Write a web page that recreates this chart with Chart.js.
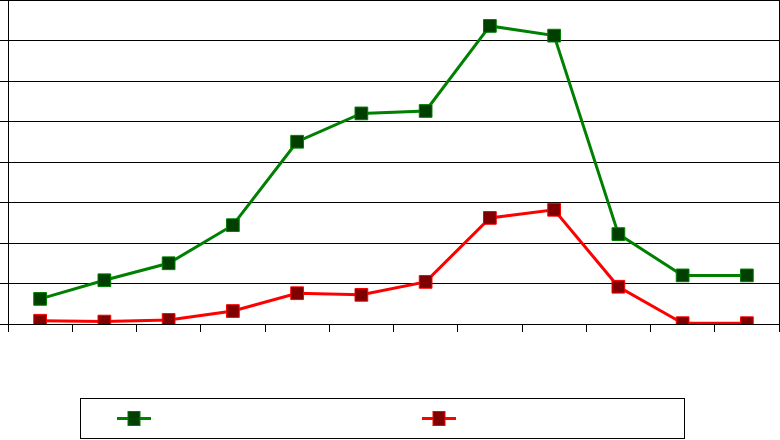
<!DOCTYPE html>
<html>
<head>
<meta charset="utf-8">
<script src="https://cdn.jsdelivr.net/npm/chart.js@4/dist/chart.umd.min.js"></script>
<style>
  html, body { margin:0; padding:0; background:#fff; }
  #wrap { width:780px; height:440px; position:relative; }
</style>
</head>
<body>
<div id="wrap"><canvas id="chart"></canvas></div>
<script>
// ----- data -----
const categories = ['1','2','3','4','5','6','7','8','9','10','11','12'];
const seriesA = [3.1, 5.4, 7.5, 12.2, 22.5, 26.0, 26.3, 36.8, 35.6, 11.1, 6.0, 6.0];
const seriesB = [0.4, 0.3, 0.5, 1.6, 3.8, 3.6, 5.2, 13.1, 14.1, 4.6, 0.1, 0.1];
const yTicks = { min:0, max:40, step:5 };

// legend with a framed box and line+marker samples, no text
const boxLegend = {
  id: 'boxLegend',
  afterDraw(chart){
    const ctx = chart.ctx;
    const left = 80.5, top = 398.5, w = 604, h = 40;
    ctx.save();
    ctx.strokeStyle = '#000';
    ctx.lineWidth = 1;
    ctx.strokeRect(left, top, w, h);
    const cy = top + h/2;
    const xs = [134, 439];
    chart.data.datasets.forEach((ds, i)=>{
      const cx = xs[i];
      ctx.strokeStyle = ds.borderColor;
      ctx.lineWidth = 3;
      ctx.beginPath(); ctx.moveTo(cx-17, cy); ctx.lineTo(cx+17, cy); ctx.stroke();
      ctx.fillStyle = ds.pointBackgroundColor;
      ctx.strokeStyle = ds.pointBorderColor;
      ctx.lineWidth = 1;
      ctx.fillRect(cx-6, cy-7, 12, 14);
      ctx.strokeRect(cx-6, cy-7, 12, 14);
    });
    ctx.restore();
  }
};

new Chart(document.getElementById('chart'), {
  type: 'line',
  data: {
    labels: categories,
    datasets: [
      { label:'Series A', data: seriesA, borderColor:'#008000', borderWidth:3,
        pointStyle:'rect', pointRadius:9, pointBackgroundColor:'#003f00', pointBorderColor:'#008000', pointBorderWidth:1, tension:0 },
      { label:'Series B', data: seriesB, borderColor:'#ff0000', borderWidth:3,
        pointStyle:'rect', pointRadius:9, pointBackgroundColor:'#800000', pointBorderColor:'#ff0000', pointBorderWidth:1, tension:0 }
    ]
  },
  options: {
    responsive:true, maintainAspectRatio:false, animation:false,
    layout:{ autoPadding:false, padding:{ top:0, right:1, bottom:108, left:0 } },
    plugins:{ legend:{display:false}, tooltip:{enabled:false} },
    scales:{
      x:{
        offset:true,
        ticks:{display:false},
        grid:{ offset:true, drawOnChartArea:false, drawTicks:true, tickLength:8, color:'#000' },
        border:{ color:'#000', width:1 }
      },
      y:{
        min:yTicks.min, max:yTicks.max,
        ticks:{display:false, stepSize:yTicks.step},
        grid:{ color:'#000', tickLength:8, drawTicks:true },
        border:{ color:'#000', width:1 }
      },
      yRight:{
        position:'right', min:yTicks.min, max:yTicks.max,
        ticks:{display:false},
        grid:{ display:false, drawTicks:false },
        border:{ display:true, color:'#000', width:1 }
      }
    }
  },
  plugins:[boxLegend]
});
</script>
</body>
</html>
